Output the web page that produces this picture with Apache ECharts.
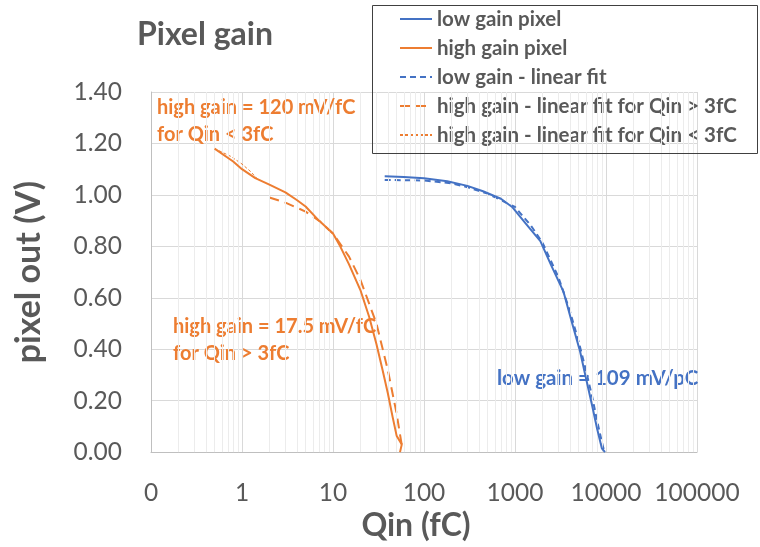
<!DOCTYPE html>
<html>
<head>
<meta charset="utf-8">
<script src="https://cdn.jsdelivr.net/npm/echarts@6/dist/echarts.min.js"></script>
<style>
html,body{margin:0;padding:0;background:#fff;}
#chart{width:760px;height:547px;}
</style>
</head>
<body>
<div id="chart"></div>
<script>
// ---- Data (Qin in fC, pixel out in V) ----
const lowGainQ = [37, 60, 100, 180, 300, 445, 700, 930, 1300, 1900, 2500, 3400, 4200, 5200, 6000, 7000, 8000, 9000, 9750];
const lowGainV = [1.072, 1.07, 1.065, 1.053, 1.035, 1.014, 0.985, 0.953, 0.89, 0.82, 0.726, 0.625, 0.507, 0.39, 0.29, 0.185, 0.09, 0.015, 0.0];

const highGainQ = [0.5, 0.8, 1.0, 1.4, 2, 3, 4, 5, 7, 10, 12, 15, 20, 25, 30, 35, 40, 45, 50, 57, 54.5];
const highGainV = [1.18, 1.13, 1.10, 1.065, 1.04, 1.01, 0.98, 0.955, 0.90, 0.85, 0.80, 0.73, 0.63, 0.525, 0.42, 0.32, 0.23, 0.14, 0.064, 0.03, 0.0];

const lowFitQ = [37, 100, 200, 300, 500, 1000, 1500, 2000, 3000, 4000, 5000, 6000, 7000, 8000, 9000, 9600];
const lowFitV = [1.058, 1.056, 1.045, 1.03, 1.005, 0.953, 0.88, 0.815, 0.68, 0.55, 0.43, 0.32, 0.22, 0.12, 0.04, 0.0];

const highFitHiQ = [2, 3, 5, 7, 10, 15, 20, 30, 40, 50, 58];
const highFitHiV = [0.99, 0.97, 0.935, 0.90, 0.85, 0.76, 0.67, 0.50, 0.32, 0.15, 0.01];

const highFitLoQ = [0.5, 0.75, 1.0, 1.25, 1.45];
const highFitLoV = [1.18, 1.15, 1.12, 1.09, 1.065];

const seriesNames = ['low gain pixel', 'high gain pixel', 'low gain - linear fit',
  'high gain - linear fit for Qin > 3fC', 'high gain - linear fit for Qin < 3fC'];

const BLUE = '#4472C4', ORANGE = '#ED7D31', GRAY = '#595959';
const FONT = 'Lato';

function pairs(xs, ys) { return xs.map((x, i) => [x, ys[i]]); }

// minor log gridlines (2..9 in each decade)
const minorLines = [];
for (let d = -1; d < 5; d++) {
  for (let k = 2; k <= 9; k++) minorLines.push({ xAxis: k * Math.pow(10, d) });
}

const chart = echarts.init(document.getElementById('chart'), null, { renderer: 'canvas' });
chart.setOption({
  animation: false,
  backgroundColor: '#ffffff',
  textStyle: { fontFamily: FONT },
  title: {
    text: 'Pixel gain', left: 132, top: 14,
    textStyle: { fontFamily: FONT, fontSize: 32, fontWeight: 'bold', color: GRAY }
  },
  grid: { left: 151, right: 63, top: 92, bottom: 92 },
  legend: {
    orient: 'vertical', left: 394, top: 3,
    itemWidth: 32, itemHeight: 14, itemGap: 7,
    data: seriesNames,
    itemStyle: { opacity: 0 },
    textStyle: { fontFamily: FONT, fontSize: 20.5, fontWeight: 'bold', color: GRAY, lineHeight: 22 }
  },
  xAxis: {
    type: 'log', logBase: 10, min: 0.1, max: 100000,
    name: 'Qin (fC)', nameLocation: 'middle', nameGap: 53,
    nameTextStyle: { fontFamily: FONT, fontSize: 32, fontWeight: 'bold', color: GRAY, padding: [0, 16, 0, 0] },
    axisLine: { lineStyle: { color: '#bfbfbf' } },
    axisTick: { show: false },
    axisLabel: {
      margin: 28, fontFamily: FONT, fontSize: 24.5, color: GRAY,
      formatter: v => (v < 1 ? '0' : String(Math.round(v)))
    },
    splitLine: { show: true, lineStyle: { color: '#d9d9d9' } }
  },
  yAxis: {
    type: 'value', min: 0, max: 1.4, interval: 0.2,
    name: 'pixel out (V)', nameLocation: 'middle', nameGap: 105,
    nameTextStyle: { fontFamily: FONT, fontSize: 34, fontWeight: 'bold', color: GRAY },
    axisLine: { show: true, lineStyle: { color: '#bfbfbf' } },
    axisTick: { show: false },
    axisLabel: { margin: 29, fontFamily: FONT, fontSize: 24.5, color: GRAY, formatter: v => v.toFixed(2) },
    splitLine: { show: true, lineStyle: { color: '#d9d9d9' } }
  },
  graphic: [
    { type: 'rect', z: 100, shape: { x: 372.5, y: 5.5, width: 385, height: 148 },
      style: { fill: 'rgba(255,255,255,0)', stroke: '#404040', lineWidth: 1 } },
    { type: 'rect', z: -1, shape: { x: 372.5, y: 5.5, width: 385, height: 148 },
      style: { fill: '#ffffff' } },
    { type: 'text', z: 1, left: 157, top: 94,
      style: { text: 'high gain = 120 mV/fC\nfor Qin < 3fC', fill: ORANGE, font: 'bold 20px Lato', lineHeight: 27 } },
    { type: 'text', z: 1, left: 173, top: 313,
      style: { text: 'high gain = 17.5 mV/fC\nfor Qin > 3fC', fill: ORANGE, font: 'bold 20px Lato', lineHeight: 27 } },
    { type: 'text', z: 1, left: 497, top: 365,
      style: { text: 'low gain = 109 mV/pC', fill: BLUE, font: 'bold 20.5px Lato', lineHeight: 27 } }
  ],
  series: [
    {
      name: '_minor', type: 'line', data: [], silent: true, z: 1,
      markLine: { silent: true, symbol: ['none', 'none'], label: { show: false },
        lineStyle: { color: '#ececec', width: 1, type: 'solid' }, data: minorLines, animation: false }
    },
    { name: seriesNames[0], type: 'line', data: pairs(lowGainQ, lowGainV), showSymbol: false, symbol: 'none',
      lineStyle: { color: BLUE, width: 2 }, itemStyle: { color: BLUE }, z: 5 },
    { name: seriesNames[1], type: 'line', data: pairs(highGainQ, highGainV), showSymbol: false, symbol: 'none',
      lineStyle: { color: ORANGE, width: 2 }, itemStyle: { color: ORANGE }, z: 5 },
    { name: seriesNames[2], type: 'line', data: pairs(lowFitQ, lowFitV), showSymbol: false, symbol: 'none',
      lineStyle: { color: BLUE, width: 2, type: [6, 4] }, itemStyle: { color: BLUE }, z: 4 },
    { name: seriesNames[3], type: 'line', data: pairs(highFitHiQ, highFitHiV), showSymbol: false, symbol: 'none',
      lineStyle: { color: ORANGE, width: 2, type: [10, 6] }, itemStyle: { color: ORANGE }, z: 4 },
    { name: seriesNames[4], type: 'line', data: pairs(highFitLoQ, highFitLoV), showSymbol: false, symbol: 'none',
      lineStyle: { color: ORANGE, width: 1, type: [3, 2] }, itemStyle: { color: ORANGE }, z: 4 }
  ]
});
</script>
</body>
</html>
